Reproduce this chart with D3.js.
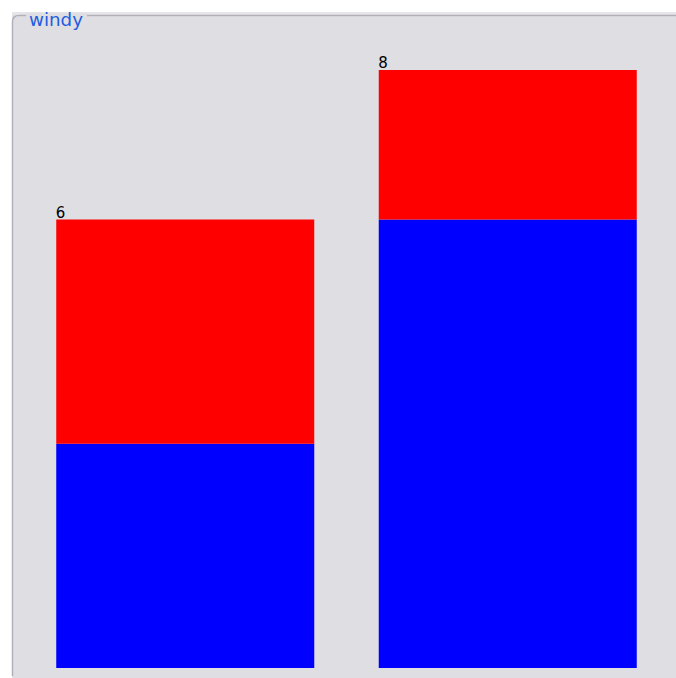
<!DOCTYPE html>
<html><head><meta charset="utf-8">
<script src="https://cdn.jsdelivr.net/npm/d3@7"></script>
<style>html,body{margin:0;padding:0;background:#fff;}svg{display:block;}</style>
</head><body>
<script>
const title = "windy";
const categories = ["A", "B"];
const blueValues = [3, 6];
const redValues = [3, 2];
const totals = [6, 8];
const yMax = 8;

const W = 676, H = 678;
const svg = d3.select("body").append("svg").attr("width", W).attr("height", H);

// panel
svg.append("rect").attr("x", 12).attr("y", 12).attr("width", W - 12).attr("height", H - 12).attr("fill", "#dfdee3");
svg.append("rect").attr("x", 12).attr("y", 12).attr("width", W - 12).attr("height", 3).attr("fill", "#e6e5ea");
svg.append("path")
  .attr("d", `M12.5,${H - 2} L12.5,22 Q12.5,15.5 19,15.5 L${W},15.5`)
  .attr("fill", "none").attr("stroke", "#b3afb8").attr("stroke-width", 1.5);
svg.append("path")
  .attr("d", `M13.5,${H - 2} L13.5,22 Q13.5,16.5 19,16.5 L${W},16.5`)
  .attr("fill", "none").attr("stroke", "#d6d4da").attr("stroke-width", 1);
// title background to cut border
svg.append("rect").attr("x", 26).attr("y", 13).attr("width", 61).attr("height", 8).attr("fill", "#dfdee3");
svg.append("text").attr("x", 29).attr("y", 26).text(title)
  .attr("font-family", "DejaVu Sans").attr("font-size", 17.5)
  .attr("textLength", 54).attr("lengthAdjust", "spacingAndGlyphs")
  .attr("fill", "#1e5ddf");

const x = d3.scaleBand().domain(categories).range([24, 669]).paddingInner(0.2).paddingOuter(0.1);
const y = d3.scaleLinear().domain([0, yMax]).range([668, 70]);

const data = categories.map((c, i) => ({c, blue: blueValues[i], red: redValues[i], total: totals[i]}));

const g = svg.append("g");
g.selectAll(".blue").data(data).join("rect")
  .attr("x", d => x(d.c)).attr("width", x.bandwidth())
  .attr("y", d => y(d.blue)).attr("height", d => y(0) - y(d.blue))
  .attr("fill", "#0000ff");
g.selectAll(".red").data(data).join("rect")
  .attr("x", d => x(d.c)).attr("width", x.bandwidth())
  .attr("y", d => y(d.blue + d.red)).attr("height", d => y(d.blue) - y(d.blue + d.red))
  .attr("fill", "#ff0000");
g.selectAll(".lbl").data(data).join("text")
  .attr("x", d => x(d.c) - 0.5).attr("y", d => y(d.total) - 2)
  .text(d => d.total)
  .attr("font-family", "DejaVu Sans").attr("font-size", 15).attr("fill", "#000");
</script>
</body></html>
